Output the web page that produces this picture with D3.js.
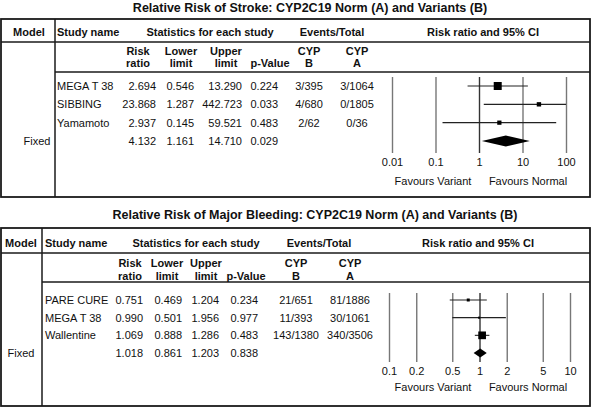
<!DOCTYPE html>
<html><head><meta charset="utf-8">
<script src="https://cdn.jsdelivr.net/npm/d3@7"></script>
<style>
body{margin:0;background:#fff;}
svg{display:block;font-family:"Liberation Sans",Arial,sans-serif;}
</style></head>
<body><svg id="c" width="592" height="408"></svg>
<script>
// ---------- DATA ----------
const strokeTitle = "Relative Risk of Stroke: CYP2C19 Norm (A) and Variants (B)";
const strokeStudies = ["MEGA T 38", "SIBBING", "Yamamoto"];
const strokeRR    = [2.694, 23.868, 2.937];
const strokeLower = [0.546, 1.287, 0.145];
const strokeUpper = [13.290, 442.723, 59.521];
const strokeP     = [0.224, 0.033, 0.483];
const strokeEvB   = ["3/395", "4/680", "2/62"];
const strokeEvA   = ["3/1064", "0/1805", "0/36"];
const strokeWeight = [63.3, 18.9, 17.8];
const strokeSummary = [4.132, 1.161, 14.710, 0.029];
const strokeTicks = [0.01, 0.1, 1, 10, 100];
const strokeTickLabels = ["0.01", "0.1", "1", "10", "100"];

const bleedTitle = "Relative Risk of Major Bleeding: CYP2C19 Norm (A) and Variants (B)";
const bleedStudies = ["PARE CURE", "MEGA T 38", "Wallentine"];
const bleedRR    = [0.751, 0.990, 1.069];
const bleedLower = [0.469, 0.501, 0.888];
const bleedUpper = [1.204, 1.956, 1.286];
const bleedP     = [0.234, 0.977, 0.483];
const bleedEvB   = ["21/651", "11/393", "143/1380"];
const bleedEvA   = ["81/1886", "30/1061", "340/3506"];
const bleedWeight = [12.3, 5.9, 81.8];
const bleedSummary = [1.018, 0.861, 1.203, 0.838];
const bleedTicks = [0.1, 0.2, 0.5, 1, 2, 5, 10];
const bleedTickLabels = ["0.1", "0.2", "0.5", "1", "2", "5", "10"];

const modelLabel = "Fixed";
const favourLabels = ["Favours Variant", "Favours Normal"];

// ---------- DRAW ----------
const svg = d3.select("#c");
const f3 = d3.format(".3f");
const ink = "#111";

function panel(d, L) {
  const g = svg.append("g");
  g.append("text").attr("x", L.titleX).attr("y", L.titleY).attr("dy", "0.35em")
    .attr("text-anchor", "middle").attr("font-weight", "bold").attr("font-size", 12.5)
    .attr("fill", ink).text(d.title);
  g.append("rect").attr("x", 1).attr("y", L.top).attr("width", 589).attr("height", L.bottom - L.top)
    .attr("fill", "none").attr("stroke", "#1a1a1a").attr("stroke-width", 1.8);
  g.append("line").attr("x1", 1).attr("x2", 590).attr("y1", L.hLine1).attr("y2", L.hLine1)
    .attr("stroke", "#1a1a1a").attr("stroke-width", 1.5);
  g.append("line").attr("x1", L.divX).attr("x2", 590).attr("y1", L.hLine2).attr("y2", L.hLine2)
    .attr("stroke", "#1a1a1a").attr("stroke-width", 1.5);
  g.append("line").attr("x1", L.divX).attr("x2", L.divX).attr("y1", L.top).attr("y2", L.bottom)
    .attr("stroke", "#1a1a1a").attr("stroke-width", 1.5);

  const txt = (x, y, s, anchor, bold) => g.append("text").attr("x", x).attr("y", y).attr("dy", "0.35em")
    .attr("text-anchor", anchor).attr("font-size", 11).attr("font-weight", bold ? "bold" : "normal")
    .attr("fill", ink).text(s);

  txt(L.modelX, L.headY, "Model", "middle", true);
  txt(L.studyX, L.headY, "Study name", "start", true);
  txt(L.statX, L.headY, "Statistics for each study", "middle", true);
  txt(L.evX, L.headY, "Events/Total", "middle", true);
  txt(L.ciX, L.headY, "Risk ratio and 95% CI", "middle", true);
  const sub = [["Risk", "ratio", L.rrH], ["Lower", "limit", L.loH], ["Upper", "limit", L.upH],
               ["", "p-Value", L.pH], ["CYP", "B", L.bX], ["CYP", "A", L.aX]];
  sub.forEach(s => { txt(s[2], L.sub1, s[0], "middle", true); txt(s[2], L.sub2, s[1], "middle", true); });

  const y = d3.scalePoint().domain(d3.range(d.studies.length + 1)).range([L.row0, L.rowN]);
  d.studies.forEach((s, i) => {
    txt(L.studyX, y(i), s, "start");
    txt(L.rrR, y(i), f3(d.rr[i]), "end");
    txt(L.loR, y(i), f3(d.lo[i]), "end");
    txt(L.upR, y(i), f3(d.up[i]), "end");
    txt(L.pR, y(i), f3(d.p[i]), "end");
    txt(L.bX, y(i), d.evB[i], "middle");
    txt(L.aX, y(i), d.evA[i], "middle");
  });
  const n = d.studies.length;
  txt(L.fixedX, y(n), modelLabel, "middle");
  txt(L.rrR, y(n), f3(d.sum[0]), "end");
  txt(L.loR, y(n), f3(d.sum[1]), "end");
  txt(L.upR, y(n), f3(d.sum[2]), "end");
  txt(L.pR, y(n), f3(d.sum[3]), "end");

  const x = d3.scaleLog().domain(d3.extent(d.ticks)).range(L.xRange);
  const axis = d3.axisBottom(x).tickValues(d.ticks).tickFormat((v, i) => d.tickLabels[i])
    .tickSize(-(L.vBot - L.vTop)).tickPadding(5);
  const ax = g.append("g").attr("transform", `translate(0,${L.vBot})`).call(axis);
  ax.select(".domain").remove();
  ax.selectAll(".tick line").attr("stroke", v => v === 1 ? "#333" : "#777").attr("stroke-width", 1.4);
  ax.selectAll(".tick text").attr("font-size", 11).attr("fill", ink)
    .attr("font-family", '"Liberation Sans",Arial,sans-serif');

  const sz = d3.scaleSqrt().domain([0, d3.max(d.w)]).range([0, L.maxSq]);
  const cx = x.copy().clamp(true);
  d.studies.forEach((s, i) => {
    g.append("line").attr("x1", cx(d.lo[i])).attr("x2", cx(d.up[i])).attr("y1", y(i)).attr("y2", y(i))
      .attr("stroke", "#222").attr("stroke-width", 1.1);
    const w = sz(d.w[i]);
    g.append("rect").attr("x", x(d.rr[i]) - w / 2).attr("y", y(i) - w / 2).attr("width", w).attr("height", w)
      .attr("fill", "#000");
  });
  const yd = y(n) + L.diaOff, hd = L.diaH / 2;
  g.append("path").attr("d", `M${x(d.sum[1])},${yd}L${x(d.sum[0])},${yd - hd}L${x(d.sum[2])},${yd}L${x(d.sum[0])},${yd + hd}Z`)
    .attr("fill", "#000");
  g.append("text").attr("x", L.fav[0]).attr("y", L.favY).attr("dy", "0.35em").attr("text-anchor", "middle")
    .attr("font-size", 11).attr("fill", ink).text(favourLabels[0]);
  g.append("text").attr("x", L.fav[1]).attr("y", L.favY).attr("dy", "0.35em").attr("text-anchor", "middle")
    .attr("font-size", 11).attr("fill", ink).text(favourLabels[1]);
}

panel({title: strokeTitle, studies: strokeStudies, rr: strokeRR, lo: strokeLower, up: strokeUpper, p: strokeP,
       evB: strokeEvB, evA: strokeEvA, w: strokeWeight, sum: strokeSummary, ticks: strokeTicks, tickLabels: strokeTickLabels},
  {titleX: 310, titleY: 8, top: 19, bottom: 197, hLine1: 42, hLine2: 72, divX: 55,
   headY: 32, sub1: 51, sub2: 63, modelX: 29, fixedX: 37, studyX: 57, statX: 210, evX: 332, ciX: 483,
   rrH: 138, loH: 181, upH: 226, pH: 270, bX: 309, aX: 357,
   rrR: 156, loR: 194, upR: 242, pR: 278,
   row0: 86, rowN: 141, xRange: [392, 566], vTop: 77, vBot: 153, maxSq: 8, diaOff: 0, diaH: 11,
   fav: [433, 528], favY: 181});

panel({title: bleedTitle, studies: bleedStudies, rr: bleedRR, lo: bleedLower, up: bleedUpper, p: bleedP,
       evB: bleedEvB, evA: bleedEvA, w: bleedWeight, sum: bleedSummary, ticks: bleedTicks, tickLabels: bleedTickLabels},
  {titleX: 315, titleY: 215, top: 228, bottom: 406, hLine1: 253, hLine2: 282, divX: 42,
   headY: 243, sub1: 263, sub2: 276, modelX: 21, fixedX: 21, studyX: 45, statX: 196, evX: 319, ciX: 478,
   rrH: 130, loH: 167, upH: 206, pH: 246, bX: 296, aX: 350,
   rrR: 143, loR: 182, upR: 219, pR: 258,
   row0: 300, rowN: 353, xRange: [389, 570], vTop: 293, vBot: 362, maxSq: 7.7, diaOff: 0, diaH: 9,
   fav: [433, 528], favY: 387});
</script>
</body></html>
